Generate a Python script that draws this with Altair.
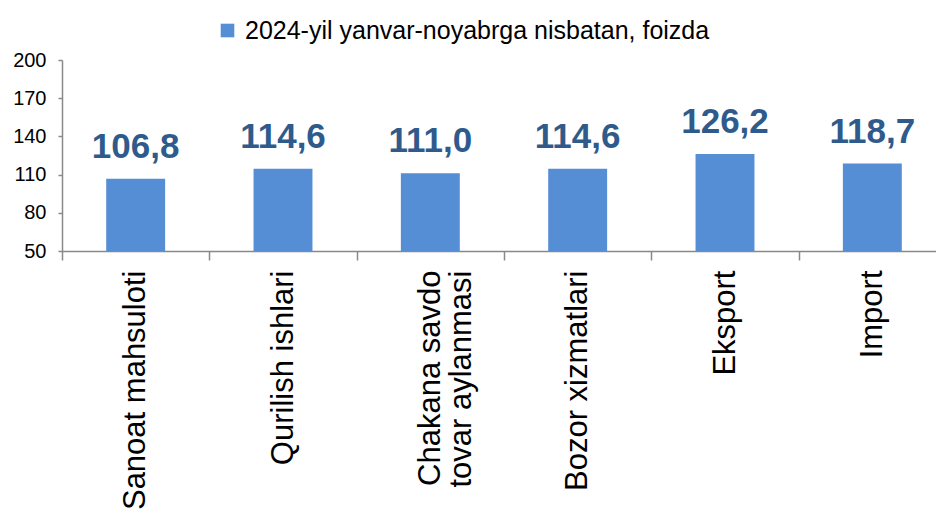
import altair as alt
import pandas as pd

categories = ["Sanoat mahsuloti", "Qurilish ishlari", "Chakana savdo tovar aylanmasi",
              "Bozor xizmatlari", "Eksport", "Import"]
values = [106.8, 114.6, 111.0, 114.6, 126.2, 118.7]
series_name = "2024-yil yanvar-noyabrga nisbatan, foizda"
y_ticks = [50, 80, 110, 140, 170, 200]
y_base = 50

df = pd.DataFrame({
    "cat": categories,
    "val": values,
    "series": [series_name] * len(categories),
    "label": [f"{v:.1f}".replace(".", ",") for v in values],
})

FONT = "Liberation Sans"
AX = "#898989"

x_enc = alt.X(
    "cat:N", sort=categories, title=None,
    scale=alt.Scale(range=[0, 884], paddingInner=0, paddingOuter=0),
    axis=alt.Axis(
        labelAngle=-90, labelFontSize=31, labelFont=FONT, labelColor="#000000",
        labelPadding=10, tickBand="extent", tickSize=9, tickColor=AX,
        domainColor=AX, domainWidth=1.5, tickWidth=1.5, labelLimit=400,
        labelLineHeight=31, labelOverlap=False,
        labelExpr="datum.label == 'Chakana savdo tovar aylanmasi' ? ['Chakana savdo', 'tovar aylanmasi'] : datum.label",
    ),
)
y_enc = alt.Y(
    "val:Q", title=None,
    scale=alt.Scale(domain=[50, 200], nice=False, zero=False),
    axis=alt.Axis(values=y_ticks, grid=False, tickSize=4, tickColor=AX, domainColor=AX,
                  domainWidth=1.5, tickWidth=1.5, labelOverlap=False,
                  labelFontSize=20, labelFont=FONT, labelColor="#000000", labelPadding=12),
)

base = alt.Chart(df).encode(x=x_enc, y=y_enc)

bars = base.mark_bar(width=alt.RelativeBandSize(0.4)).encode(
    y2=alt.datum(y_base),
    color=alt.Color("series:N", scale=alt.Scale(range=["#558ED5"]),
                    legend=alt.Legend(title=None, orient="none", legendX=153, legendY=-42,
                                      symbolType="square", symbolSize=185, symbolStrokeWidth=0,
                                      labelFontSize=25, labelFont=FONT, labelColor="#000000",
                                      labelOffset=5, padding=0, labelLimit=800)),
)

text = base.mark_text(
    font=FONT, fontSize=35, fontWeight="bold", color="#2F5B8C",
    baseline="alphabetic", dy=-21,
).encode(text="label:N")

chart = (bars + text).properties(
    width=874, height=191,
    autosize=alt.AutoSizeParams(type="none"),
    padding={"left": 62, "top": 60, "right": 0, "bottom": 264},
).configure(background="white").configure_view(stroke=None)

chart.save("out.html", embed_options={"renderer": "svg", "actions": False})
